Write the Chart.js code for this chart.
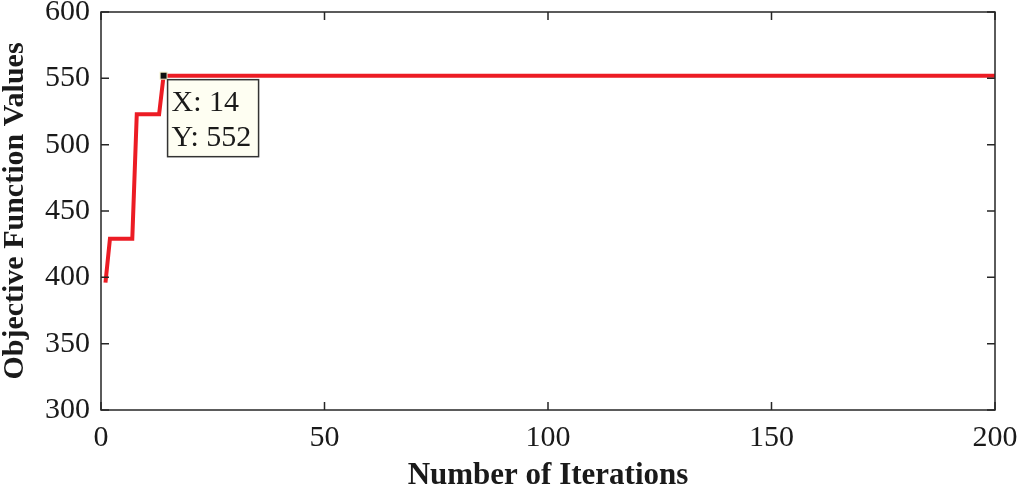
<!DOCTYPE html>
<html>
<head>
<meta charset="utf-8">
<script src="https://cdn.jsdelivr.net/npm/chart.js@4"></script>
<style>
  html, body { margin: 0; padding: 0; background: #fff; }
  #wrap { width: 1019px; height: 489px; }
</style>
</head>
<body>
<div id="wrap"><canvas id="chart"></canvas></div>
<script>
// breakpoints of the convergence curve (value stays flat between them)
var iterations = [1, 2, 7, 8, 13, 14, 200];
var objValues = [396, 429, 429, 523, 523, 552, 552];
var xTicks = [0, 50, 100, 150, 200];
var yTicks = [300, 350, 400, 450, 500, 550, 600];
var tipIndex = 5; // datatip sits on iteration 14

var points = [];
for (var i = 0; i < iterations.length; i++) {
    points.push({ x: iterations[i], y: objValues[i] });
}

// matlab style box with inward ticks + the datatip
var matlabAxes = {
    id: 'matlabAxes',
    afterDatasetsDraw: function(chart) {
        var ctx = chart.ctx;
        var a = chart.chartArea;
        var xs = chart.scales.x, ys = chart.scales.y;
        var tl = 8;
        ctx.save();
        ctx.strokeStyle = '#262626';
        ctx.lineWidth = 1.5;
        ctx.strokeRect(a.left, a.top, a.right - a.left, a.bottom - a.top);
        ctx.beginPath();
        xTicks.forEach(function(v) {
            var px = xs.getPixelForValue(v);
            ctx.moveTo(px, a.bottom); ctx.lineTo(px, a.bottom - tl);
            ctx.moveTo(px, a.top); ctx.lineTo(px, a.top + tl);
        });
        yTicks.forEach(function(v) {
            var py = ys.getPixelForValue(v);
            ctx.moveTo(a.left, py); ctx.lineTo(a.left + tl, py);
            ctx.moveTo(a.right, py); ctx.lineTo(a.right - tl, py);
        });
        ctx.stroke();

        // datatip
        var tx = xs.getPixelForValue(iterations[tipIndex]);
        var ty = ys.getPixelForValue(objValues[tipIndex]);
        ctx.fillStyle = '#111';
        ctx.strokeStyle = '#f4f0c8';
        ctx.lineWidth = 1;
        ctx.fillRect(tx - 3.5, ty - 3.5, 7, 7);
        ctx.strokeRect(tx - 3.5, ty - 3.5, 7, 7);

        var bx = tx + 4, by = ty + 4, bw = 91, bh = 77;
        ctx.fillStyle = '#fefef2';
        ctx.fillRect(bx, by, bw, bh);
        ctx.strokeStyle = '#333';
        ctx.lineWidth = 1.5;
        ctx.strokeRect(bx, by, bw, bh);
        ctx.fillStyle = '#1a1a1a';
        ctx.font = '30px "Liberation Serif"';
        ctx.textAlign = 'left';
        ctx.textBaseline = 'alphabetic';
        ctx.fillText('X: ' + iterations[tipIndex], bx + 4, by + 31);
        ctx.fillText('Y: ' + objValues[tipIndex], bx + 4, by + 66);
        ctx.restore();
    }
};

new Chart(document.getElementById('chart'), {
    type: 'line',
    data: {
        datasets: [{
            data: points,
            borderColor: '#ec1c24',
            borderWidth: 4,
            pointRadius: 0,
            fill: false,
            tension: 0
        }]
    },
    options: {
        responsive: true,
        maintainAspectRatio: false,
        animation: false,
        layout: { padding: { left: 0, right: 24, top: 12, bottom: 0 } },
        plugins: {
            legend: { display: false },
            tooltip: { enabled: false }
        },
        scales: {
            x: {
                type: 'linear',
                min: 0,
                max: 200,
                grid: { display: false },
                border: { display: false },
                afterBuildTicks: function(scale) {
                    scale.ticks = xTicks.map(function(v) { return { value: v }; });
                },
                afterFit: function(scale) {
                    scale.height = 79;
                    scale.paddingLeft = 0;
                    scale.paddingRight = 0;
                },
                ticks: {
                    color: '#1a1a1a',
                    padding: 2,
                    maxRotation: 0,
                    font: { family: 'Liberation Serif', size: 30 }
                },
                title: {
                    display: true,
                    text: 'Number of Iterations',
                    color: '#1a1a1a',
                    padding: { top: 0, bottom: -6 },
                    font: { family: 'Liberation Serif', size: 31, weight: 'bold' }
                }
            },
            y: {
                min: 300,
                max: 600,
                grid: { display: false },
                border: { display: false },
                afterBuildTicks: function(scale) {
                    scale.ticks = yTicks.map(function(v) { return { value: v }; });
                },
                afterFit: function(scale) {
                    scale.width = 101;
                    scale.paddingTop = 0;
                    scale.paddingBottom = 0;
                },
                ticks: {
                    color: '#1a1a1a',
                    padding: 3,
                    font: { family: 'Liberation Serif', size: 30 }
                },
                title: {
                    display: true,
                    text: 'Objective Function Values',
                    color: '#1a1a1a',
                    padding: { top: -3, bottom: 0 },
                    font: { family: 'Liberation Serif', size: 30, weight: 'bold' }
                }
            }
        }
    },
    plugins: [matlabAxes]
});
</script>
</body>
</html>
